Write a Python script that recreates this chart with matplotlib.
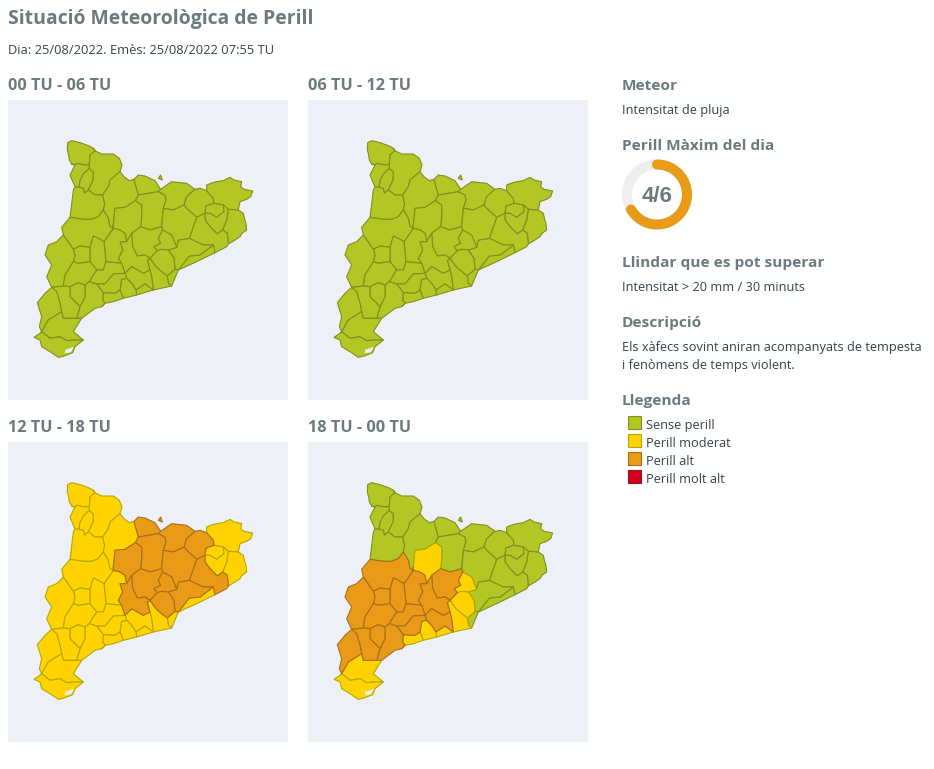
#!/usr/bin/env python3
"""
Situacio Meteorologica de Perill: four maps of Catalonia by comarca
plus the side column with the meteor details and the legend
"""

import matplotlib
matplotlib.use('Agg')
import matplotlib.pyplot as plt
from matplotlib.patches import Arc, Circle, Rectangle, Polygon

plt.rcParams['font.family'] = ['Open Sans', 'DejaVu Sans']

W, H = 934, 769

HEAD = '#6b7a7f'
BODY = '#35424c'
PANEL = '#edf1f7'

panel_titles = ['00 TU - 06 TU', '06 TU - 12 TU', '12 TU - 18 TU', '18 TU - 00 TU']

level_names = ['Sense perill', 'Perill moderat', 'Perill alt', 'Perill molt alt']
level_fill = ['#b2c724', '#ffd200', '#e99b17', '#d0021b']
level_edge = ['#838f1d', '#b3a800', '#a86f17', '#a5101f']

danger_level = 4
danger_max = 6

# outlines in map units
shapes = {
    'Aran': [(113, 38), (125, 32), (150, 38), (178, 48), (190, 55), (180, 75), (178, 103), (165, 105), (140, 100), (125, 102), (118, 90), (116, 75), (112, 60)],
    'AltaRibagorca': [(125, 102), (140, 100), (165, 105), (178, 103), (178, 115), (160, 132), (150, 152), (147, 172), (135, 170), (126, 150), (120, 135), (135, 105)],
    'Ribagorca2': [(178, 115), (190, 126), (190, 148), (175, 180), (163, 190), (160, 175), (147, 172), (150, 152), (160, 132)],
    'PallarsSobira': [(190, 55), (195, 62), (215, 72), (250, 72), (268, 85), (276, 105), (270, 125), (240, 150), (235, 170), (218, 195), (195, 195), (175, 180), (190, 148), (190, 126), (178, 115), (178, 103), (180, 75)],
    'PallarsJussa': [(135, 170), (147, 172), (160, 175), (163, 190), (175, 180), (195, 195), (218, 195), (224, 220), (205, 260), (185, 268), (160, 268), (120, 262), (125, 222), (130, 180)],
    'AltUrgell': [(270, 125), (282, 140), (298, 152), (312, 148), (325, 195), (316, 212), (285, 232), (255, 235), (250, 285), (240, 290), (235, 265), (220, 240), (224, 220), (218, 195), (235, 170), (240, 150)],
    'Cerdanya': [(312, 148), (325, 135), (345, 138), (375, 152), (392, 178), (385, 185), (325, 195)],
    'Llivia': [(385, 145), (392, 135), (397, 150), (388, 150)],
    'Bergueda': [(325, 195), (385, 185), (405, 195), (408, 210), (400, 235), (395, 290), (360, 300), (332, 290), (335, 260), (335, 225), (316, 212)],
    'Solsones': [(255, 235), (285, 232), (316, 212), (335, 225), (335, 260), (332, 290), (305, 310), (290, 335), (285, 310), (270, 300), (250, 295), (250, 285)],
    'Ripolles': [(392, 178), (425, 155), (470, 160), (495, 178), (470, 200), (462, 225), (430, 240), (400, 235), (408, 210), (405, 195), (385, 185)],
    'Garrotxa': [(495, 178), (510, 175), (530, 182), (550, 205), (552, 220), (528, 228), (525, 250), (500, 262), (470, 235), (462, 225), (470, 200)],
    'AltEmporda': [(530, 182), (530, 165), (548, 158), (560, 155), (580, 152), (600, 142), (612, 150), (635, 155), (632, 170), (642, 178), (668, 183), (662, 200), (650, 208), (630, 215), (625, 240), (595, 238), (580, 225), (552, 220), (550, 205)],
    'PlaEstany': [(528, 228), (552, 220), (580, 225), (582, 245), (560, 262), (540, 250), (525, 250)],
    'BaixEmporda': [(595, 238), (625, 240), (640, 250), (644, 268), (648, 280), (650, 300), (636, 310), (630, 320), (615, 330), (595, 342), (592, 310), (578, 300), (590, 270)],
    'Girones': [(525, 250), (540, 250), (560, 262), (582, 245), (580, 225), (595, 238), (590, 270), (578, 300), (562, 312), (540, 290), (525, 270)],
    'Selva': [(500, 262), (525, 250), (525, 270), (540, 290), (562, 312), (578, 300), (592, 310), (595, 342), (590, 350), (555, 368), (550, 345), (520, 345), (478, 325), (490, 290)],
    'Maresme': [(445, 420), (478, 378), (510, 375), (550, 345), (555, 368), (500, 395), (445, 425)],
    'VallesOriental': [(478, 325), (520, 345), (550, 345), (510, 375), (478, 378), (445, 420), (435, 418), (432, 385), (415, 360), (440, 352), (445, 330)],
    'Osona': [(400, 235), (430, 240), (462, 225), (470, 235), (500, 262), (490, 290), (478, 325), (445, 330), (440, 352), (425, 315), (398, 300), (395, 290)],
    'Bages': [(305, 310), (332, 290), (360, 300), (395, 290), (398, 300), (385, 325), (392, 340), (372, 350), (382, 362), (360, 385), (345, 375), (322, 378), (308, 350)],
    'Moianes': [(398, 300), (425, 315), (440, 352), (415, 360), (395, 358), (372, 350), (392, 340), (385, 325)],
    'VallesOccidental': [(382, 362), (395, 358), (415, 360), (432, 385), (435, 418), (412, 438), (395, 425), (378, 410), (360, 385)],
    'Barcelones': [(412, 438), (435, 418), (445, 420), (445, 425), (425, 468), (415, 460)],
    'BaixLlobregat': [(352, 392), (360, 385), (378, 410), (395, 425), (412, 438), (415, 460), (425, 468), (370, 480), (365, 440), (360, 420)],
    'Anoia': [(270, 335), (290, 335), (305, 310), (308, 350), (322, 378), (345, 375), (360, 385), (352, 392), (360, 420), (340, 430), (305, 410), (285, 430), (275, 400), (265, 385), (278, 360)],
    'AltPenedes': [(285, 430), (305, 410), (340, 430), (360, 420), (365, 440), (370, 480), (345, 462), (318, 480), (305, 460), (290, 445)],
    'Garraf': [(318, 480), (345, 462), (370, 480), (320, 495)],
    'BaixPenedes': [(275, 448), (290, 445), (305, 460), (318, 480), (320, 495), (280, 505), (270, 480)],
    'Segarra': [(250, 295), (270, 300), (285, 310), (290, 335), (270, 335), (278, 360), (265, 385), (275, 400), (228, 395), (222, 335)],
    'Noguera': [(120, 262), (160, 268), (185, 268), (205, 260), (220, 240), (235, 265), (240, 290), (250, 285), (250, 295), (222, 335), (205, 325), (190, 318), (180, 352), (150, 348), (130, 358), (100, 315), (95, 292)],
    'Urgell': [(180, 352), (190, 318), (205, 325), (222, 335), (228, 395), (220, 420), (200, 420), (180, 395)],
    'PlaUrgell': [(130, 358), (150, 348), (180, 352), (180, 395), (145, 400), (130, 395), (135, 375)],
    'Segria': [(100, 315), (130, 358), (135, 375), (130, 395), (105, 435), (100, 468), (65, 472), (50, 440), (65, 405), (45, 375), (55, 345), (80, 335)],
    'Garrigues': [(130, 395), (145, 400), (180, 395), (200, 420), (178, 455), (165, 465), (145, 458), (120, 470), (100, 468), (105, 435)],
    'ConcaBarbera': [(228, 395), (275, 400), (285, 430), (250, 432), (225, 462), (200, 462), (178, 455), (200, 420), (220, 420)],
    'AltCamp': [(225, 462), (250, 432), (285, 430), (290, 445), (275, 448), (270, 480), (255, 490), (220, 488), (200, 462)],
    'Tarragones': [(220, 488), (255, 490), (270, 480), (280, 505), (250, 515), (225, 520), (215, 530), (218, 510)],
    'BaixCamp': [(165, 465), (178, 455), (200, 462), (220, 488), (218, 510), (215, 530), (195, 535), (155, 565), (140, 565), (150, 530), (165, 500)],
    'Priorat': [(120, 470), (145, 458), (165, 465), (165, 500), (150, 530), (140, 520), (120, 500)],
    'RiberaEbre': [(65, 472), (100, 468), (120, 470), (120, 500), (140, 520), (150, 530), (140, 565), (100, 565), (95, 545), (90, 520), (80, 485)],
    'TerraAlta': [(22, 518), (45, 490), (65, 472), (80, 485), (90, 520), (95, 545), (55, 570), (35, 605), (28, 590), (35, 560)],
    'BaixEbre': [(95, 545), (100, 565), (140, 565), (155, 565), (130, 605), (160, 630), (135, 630), (110, 632), (90, 620), (60, 625), (30, 610), (35, 605), (55, 570)],
    'Montsia': [(12, 622), (30, 610), (60, 625), (90, 620), (110, 632), (135, 630), (160, 630), (135, 650), (128, 668), (102, 678), (85, 682), (60, 665), (35, 650), (30, 630)],
}
bay = [(107, 660), (130, 652), (122, 666), (105, 669)]


def heal(rings, snap=7.0, near=9.0):
    # make neighbouring rings share vertices so no slivers show between them
    reps = []
    fixed = {}
    for ring in rings.values():
        for p in ring:
            for r in reps:
                if (p[0] - r[0]) ** 2 + (p[1] - r[1]) ** 2 <= snap ** 2:
                    fixed[p] = r
                    break
            else:
                reps.append(p)
                fixed[p] = p
    out = {}
    for key, ring in rings.items():
        pts = []
        for p in ring:
            q = fixed[p]
            if not pts or pts[-1] != q:
                pts.append(q)
        if len(pts) > 1 and pts[0] == pts[-1]:
            pts.pop()
        new = []
        for a, b in zip(pts, pts[1:] + pts[:1]):
            new.append(a)
            dx, dy = b[0] - a[0], b[1] - a[1]
            hits = []
            for c in reps:
                if c == a or c == b:
                    continue
                t = ((c[0] - a[0]) * dx + (c[1] - a[1]) * dy) / (dx * dx + dy * dy)
                if 0 < t < 1:
                    ex, ey = a[0] + t * dx - c[0], a[1] + t * dy - c[1]
                    if ex * ex + ey * ey <= near ** 2:
                        hits.append((t, c))
            new.extend(c for _, c in sorted(hits))
        out[key] = new
    return out


shapes = heal(shapes)
names = list(shapes)

orange_3 = ['Cerdanya', 'Llivia', 'Bergueda', 'Solsones', 'Ripolles', 'Garrotxa', 'Osona', 'Selva',
            'VallesOriental', 'VallesOccidental', 'Moianes', 'Bages', 'Anoia']
orange_4 = ['Noguera', 'Urgell', 'PlaUrgell', 'Segria', 'Garrigues', 'Segarra', 'ConcaBarbera', 'AltCamp',
            'Anoia', 'AltPenedes', 'Priorat', 'BaixCamp', 'RiberaEbre', 'TerraAlta', 'Bages']
yellow_4 = ['Solsones', 'Moianes', 'VallesOccidental', 'BaixLlobregat', 'BaixPenedes', 'Garraf',
            'Tarragones', 'BaixEbre', 'Montsia']

# level index of every comarca per panel
levels_1 = {n: 0 for n in names}
levels_2 = {n: 0 for n in names}
levels_3 = {n: 2 if n in orange_3 else 1 for n in names}
levels_4 = {n: 2 if n in orange_4 else 1 if n in yellow_4 else 0 for n in names}
panel_levels = [levels_1, levels_2, levels_3, levels_4]

panel_boxes = [(8, 100), (308, 100), (8, 442), (308, 442)]
title_base = [90, 90, 432, 432]

fig = plt.figure(figsize=(W / 100, H / 100), dpi=100, facecolor='white')

# page layer in pixel coordinates
page = fig.add_axes([0, 0, 1, 1])
page.set_xlim(0, W)
page.set_ylim(H, 0)
page.axis('off')


def label(x, y, s, size=9.18, color=BODY, weight='normal', **kw):
    page.text(x, y, s, fontsize=size, color=color, fontweight=weight, va='baseline', **kw)


def heading(x, y, s, size=11.05):
    label(x, y, s, size=size, color=HEAD, weight='bold')


heading(8, 24, 'Situació Meteorològica de Perill', size=13.95)
label(8.5, 54, 'Dia: 25/08/2022. Emès: 25/08/2022 07:55 TU', size=9.28)

for (px, py), title, base, levels in zip(panel_boxes, panel_titles, title_base, panel_levels):
    heading(px, base, title, size=11.7)

    ax = fig.add_axes([px / W, 1 - (py + 300) / H, 280 / W, 300 / H])
    ax.set_xlim(-66, 774)
    ax.set_ylim(810, -90)
    ax.set_facecolor(PANEL)
    ax.set_xticks([])
    ax.set_yticks([])
    for sp in ax.spines.values():
        sp.set_visible(False)

    # higher levels last so their borders stay on top
    for lvl in range(4):
        for n in names:
            if levels[n] == lvl:
                ax.add_patch(Polygon(shapes[n], closed=True, facecolor=level_fill[lvl],
                                     edgecolor=level_edge[lvl], linewidth=0.8, joinstyle='round'))
    ax.add_patch(Polygon(bay, closed=True, facecolor=PANEL, edgecolor=PANEL, linewidth=0.4))

# side column
sx = 622
hx = 621.5
heading(hx, 90, 'Meteor')
label(sx, 114, 'Intensitat de pluja')
heading(hx, 150, 'Perill Màxim del dia')

# donut
cx, cy = 657, 194.5
page.add_patch(Circle((cx, cy), 30, fill=False, edgecolor='#eeeeee', linewidth=7.2))
page.add_patch(Arc((cx, cy), 60, 60, angle=0, theta1=-90, theta2=-90 + 360 * danger_level / danger_max,
                   edgecolor=level_fill[2], linewidth=7.2, capstyle='round'))
page.text(cx, cy + 8, f'{danger_level}/{danger_max}', fontsize=16, fontweight='bold', color=HEAD,
          family='Liberation Sans', ha='center', va='baseline')

heading(hx, 267, 'Llindar que es pot superar')
label(sx, 291, 'Intensitat > 20 mm / 30 minuts')
heading(hx, 327, 'Descripció')
label(sx, 351, 'Els xàfecs sovint aniran acompanyats de tempesta')
label(sx, 369, 'i fenòmens de temps violent.')
heading(hx, 405, 'Llegenda')

for i, name in enumerate(level_names):
    y = 415 + 18 * i
    page.add_patch(Rectangle((627.5, y + 0.5), 13, 13, facecolor=level_fill[i],
                             edgecolor=level_edge[i], linewidth=0.8))
    label(646, y + 14, name)

fig.savefig('out.png', dpi=100)
